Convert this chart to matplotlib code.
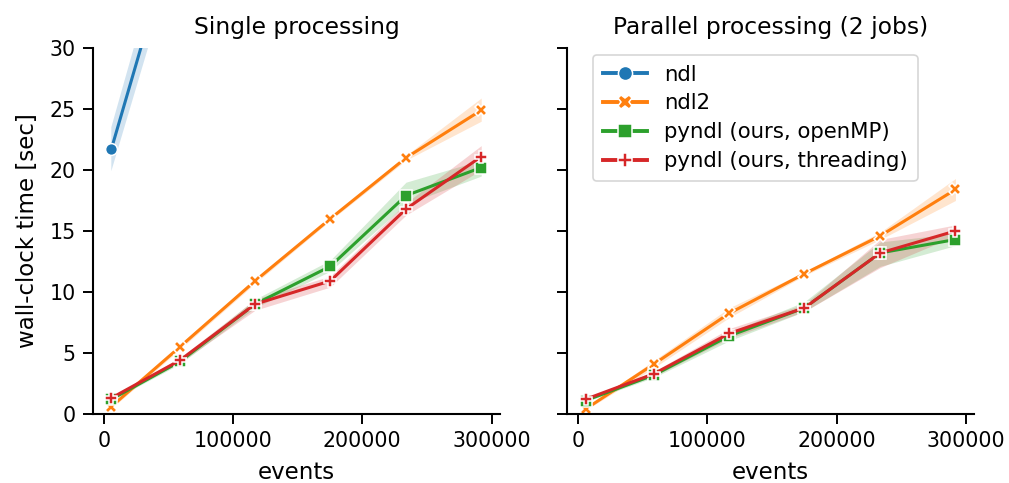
import matplotlib
matplotlib.use("Agg")
import matplotlib.pyplot as plt
import numpy as np

events = [5800, 58900, 117000, 175200, 233800, 292000]

series = ["ndl", "ndl2", "pyndl (ours, openMP)", "pyndl (ours, threading)"]
colors = ["#1f77b4", "#ff7f0e", "#2ca02c", "#d62728"]
markers = ["o", "X", "s", "P"]

# Single processing: mean, lower, upper
single_ndl = [21.7, 41.0, 60.0, 80.0, 100.0, 120.0]
single_ndl_lo = [19.9, 38.8, 57.5, 77.0, 97.0, 116.0]
single_ndl_hi = [23.5, 43.4, 62.5, 83.0, 103.0, 124.0]

single_ndl2 = [0.6, 5.5, 10.9, 16.0, 21.0, 24.9]
single_ndl2_lo = [0.45, 5.3, 10.7, 15.85, 20.8, 24.0]
single_ndl2_hi = [0.75, 5.7, 11.1, 16.15, 21.2, 25.9]

single_omp = [1.2, 4.3, 9.0, 12.1, 17.9, 20.2]
single_omp_lo = [1.1, 4.1, 8.7, 11.7, 17.2, 19.5]
single_omp_hi = [1.3, 4.5, 9.4, 12.6, 19.0, 20.8]

single_thr = [1.3, 4.4, 9.0, 10.9, 16.8, 21.1]
single_thr_lo = [1.2, 4.2, 8.5, 10.4, 16.3, 20.0]
single_thr_hi = [1.4, 4.6, 9.4, 11.3, 17.3, 22.0]

# Parallel processing (2 jobs): ndl has no measurements here
par_ndl = []
par_ndl_lo = []
par_ndl_hi = []

par_ndl2 = [0.4, 4.1, 8.25, 11.5, 14.6, 18.4]
par_ndl2_lo = [0.3, 3.8, 7.9, 11.35, 14.3, 17.5]
par_ndl2_hi = [0.5, 4.4, 8.7, 11.65, 14.9, 19.3]

par_omp = [1.1, 3.2, 6.4, 8.7, 13.2, 14.3]
par_omp_lo = [1.0, 3.0, 6.0, 8.4, 12.1, 13.8]
par_omp_hi = [1.2, 3.4, 6.7, 9.2, 14.1, 14.8]

par_thr = [1.2, 3.3, 6.6, 8.7, 13.2, 15.0]
par_thr_lo = [1.1, 3.1, 6.2, 8.4, 12.0, 14.6]
par_thr_hi = [1.3, 3.5, 7.0, 9.0, 14.3, 15.5]

single = [(single_ndl, single_ndl_lo, single_ndl_hi),
          (single_ndl2, single_ndl2_lo, single_ndl2_hi),
          (single_omp, single_omp_lo, single_omp_hi),
          (single_thr, single_thr_lo, single_thr_hi)]
parallel = [(par_ndl, par_ndl_lo, par_ndl_hi),
            (par_ndl2, par_ndl2_lo, par_ndl2_hi),
            (par_omp, par_omp_lo, par_omp_hi),
            (par_thr, par_thr_lo, par_thr_hi)]

titles = ["Single processing", "Parallel processing (2 jobs)"]
yticks = [0, 5, 10, 15, 20, 25, 30]
xticks = [0, 100000, 200000, 300000]

plt.rcParams['font.family'] = ['DejaVu Sans']
fig = plt.figure(figsize=(10.09, 4.83), dpi=100)
ax1 = fig.add_axes([0.092, 0.143, 0.4035, 0.7576])
ax2 = fig.add_axes([0.562, 0.143, 0.4035, 0.7576], sharey=ax1)

handles = []
for ax, data, title in zip([ax1, ax2], [single, parallel], titles):
    handles = []
    for (m, lo, hi), name, c, mk in zip(data, series, colors, markers):
        x = events[:len(m)]
        if len(m):
            ax.fill_between(x, lo, hi, color=c, alpha=0.2, linewidth=0)
        ln, = ax.plot(x, m, color=c, marker=mk, markersize=8.5, mec='white',
                      mew=1.1, lw=2.2, label=name)
        handles.append(ln)
    ax.set_title(title, fontsize=16.8, pad=10)
    ax.set_xlabel("events", fontsize=16.5, labelpad=7)
    ax.set_ylim(0, 30)
    ax.set_xlim(-8500, 306500)
    ax.set_xticks(xticks)
    ax.set_xticklabels([str(t) for t in xticks])
    ax.set_yticks(yticks)
    ax.tick_params(labelsize=14.8, length=7.5, width=1.4, pad=5)
    for s in ["top", "right"]:
        ax.spines[s].set_visible(False)
    for s in ["left", "bottom"]:
        ax.spines[s].set_linewidth(1.5)

ax1.set_ylabel("wall-clock time [sec]", fontsize=16.5, labelpad=7)
ax2.tick_params(labelleft=False)

leg = ax2.legend(handles=handles, loc="upper left", fontsize=15.3,
                 markerscale=1.2,
                 bbox_to_anchor=(0.064, 0.981), borderaxespad=0,
                 handlelength=2.1, borderpad=0.45, labelspacing=0.42,
                 handletextpad=0.8, fancybox=True)
leg.get_frame().set_edgecolor("#cccccc")
leg.get_frame().set_linewidth(1.2)
for lh in leg.get_lines():
    lh.set_linewidth(2.8)

fig.savefig("out.png", dpi=100)
